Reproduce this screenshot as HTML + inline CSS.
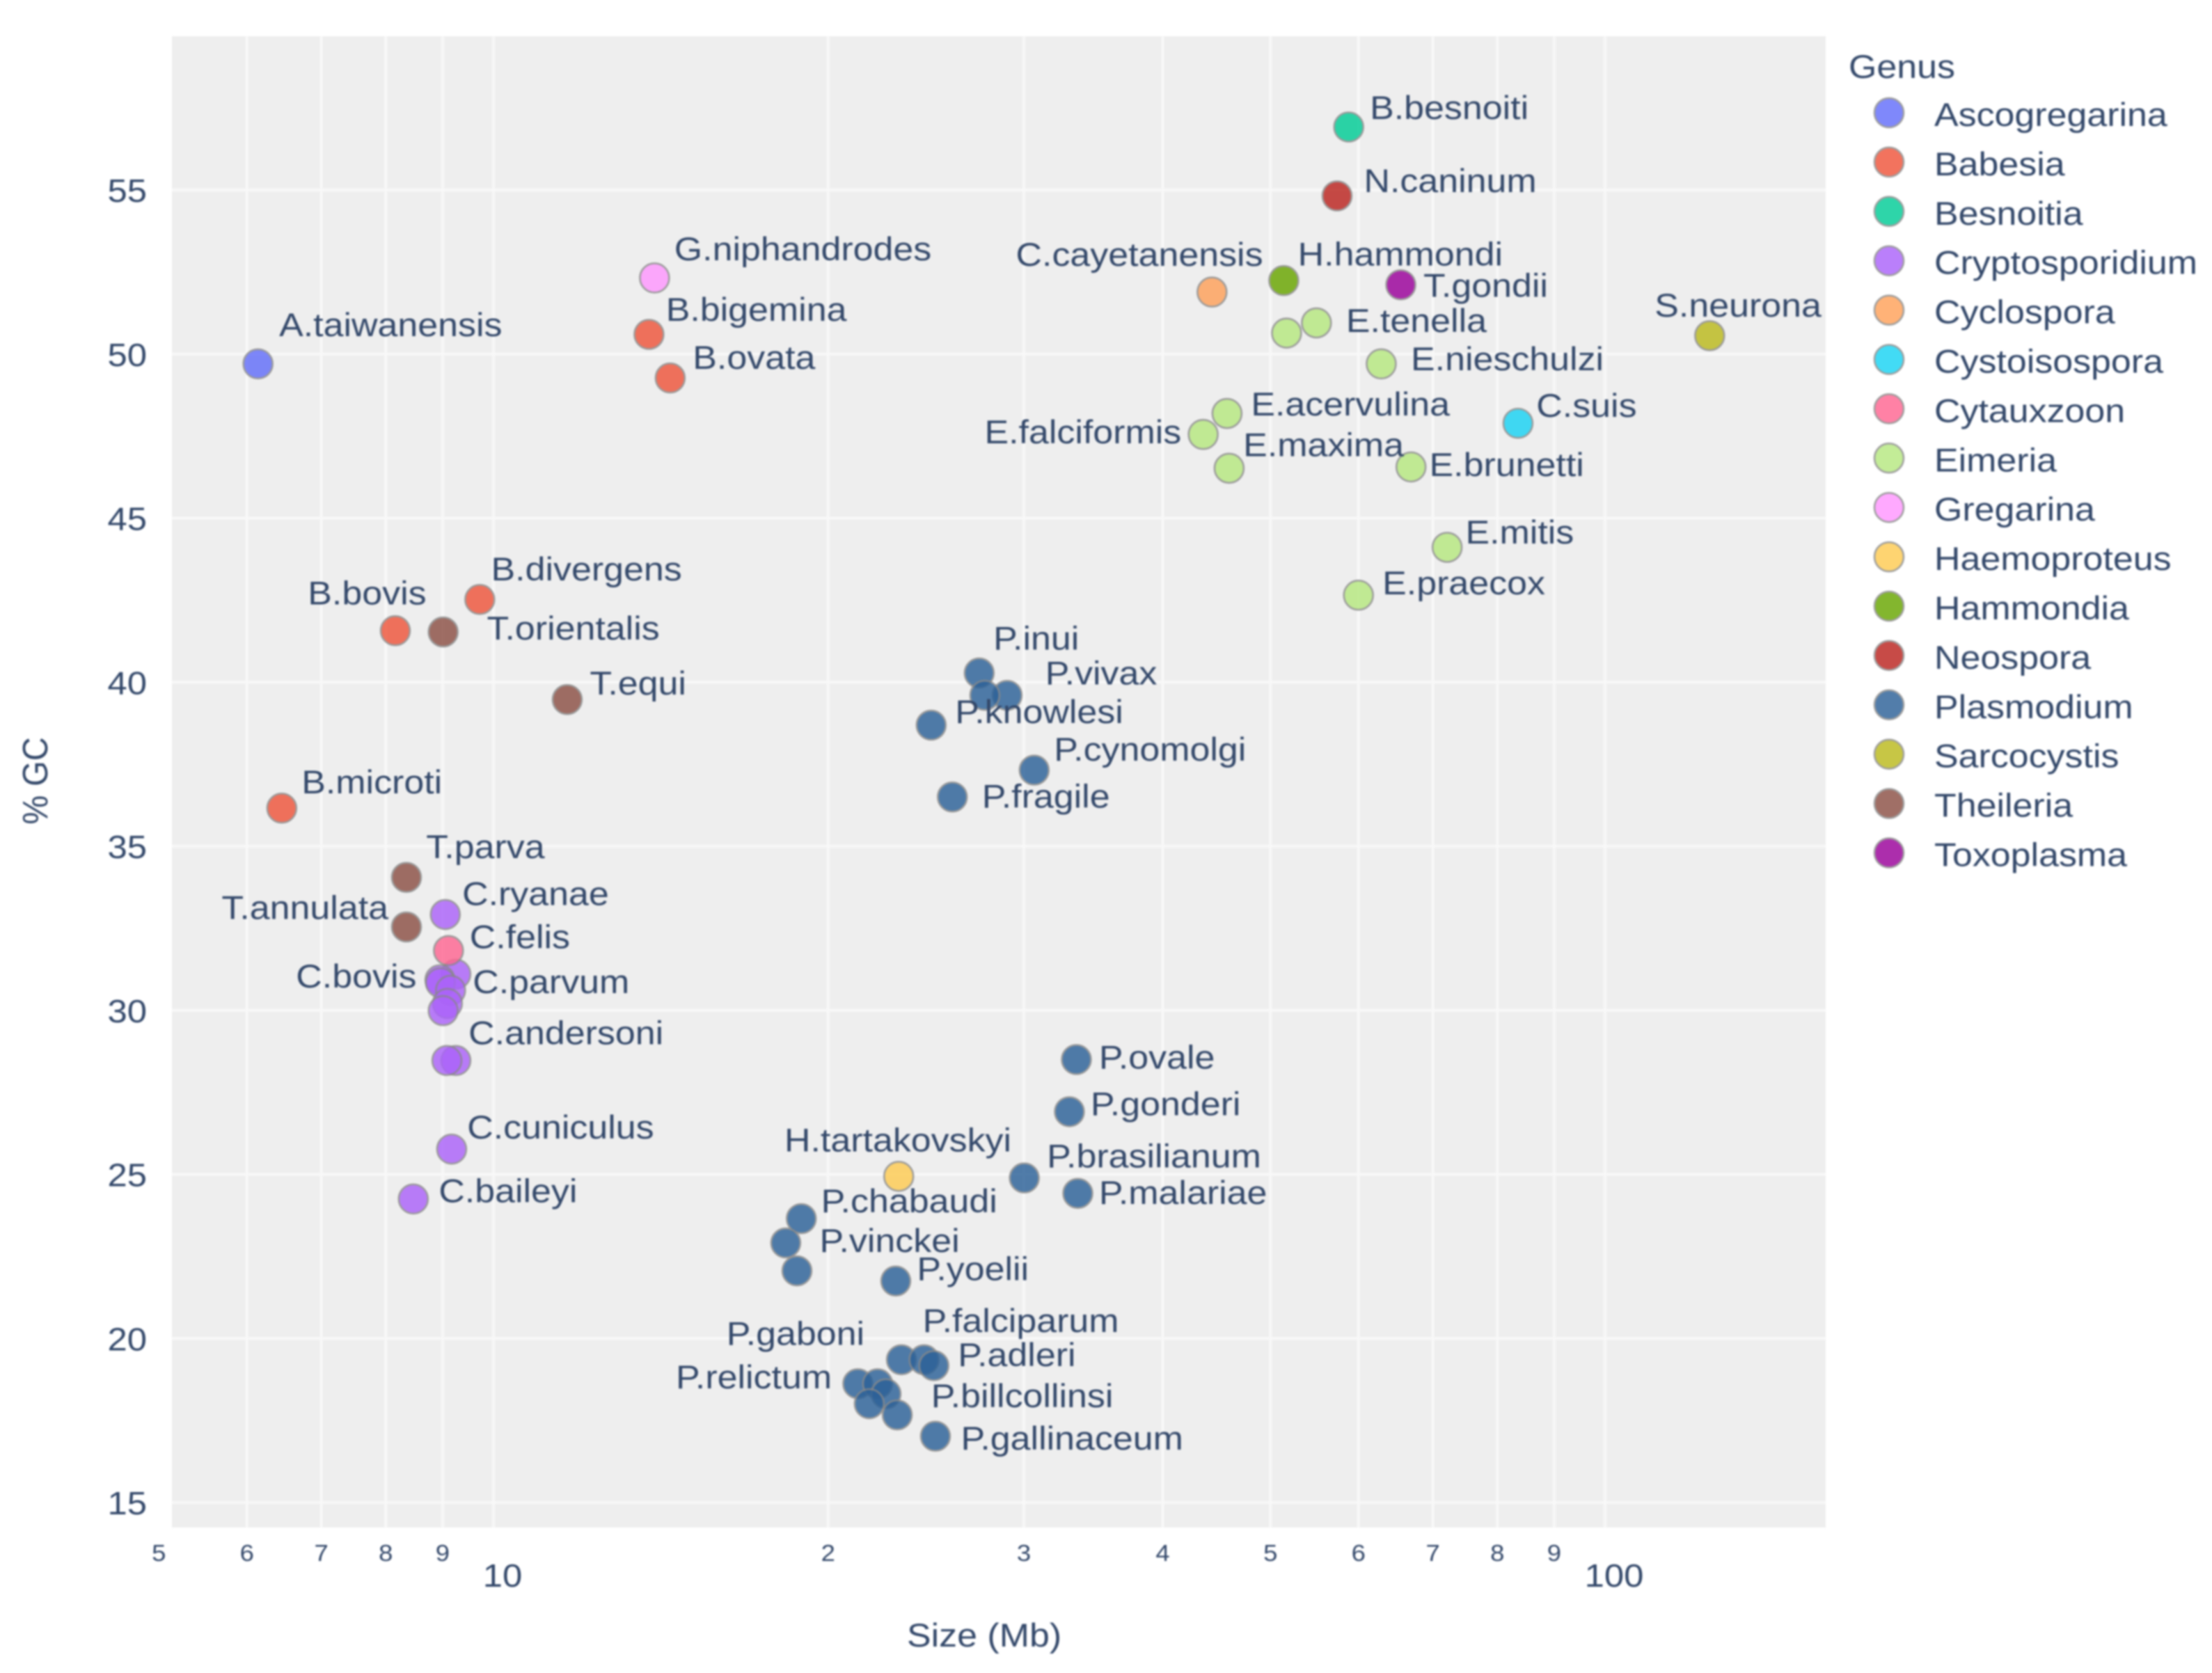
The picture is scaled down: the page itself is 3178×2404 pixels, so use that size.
<!DOCTYPE html>
<html lang="en">
<head>
<meta charset="utf-8">
<title>Genome size vs GC content</title>
<style>
html,body{margin:0;padding:0;background:#fff;}
#chart{display:block;width:3178px;height:2404px;filter:blur(1.2px);}
text{font-family:"Liberation Sans",sans-serif;fill:#33486a;}
</style>
</head>
<body>
<svg id="chart" xmlns="http://www.w3.org/2000/svg" width="3178" height="2404" viewBox="0 0 3178 2404"></svg>
<script>
const genusNames = ["Ascogregarina","Babesia","Besnoitia","Cryptosporidium","Cyclospora","Cystoisospora","Cytauxzoon","Eimeria","Gregarina","Haemoproteus","Hammondia","Neospora","Plasmodium","Sarcocystis","Theileria","Toxoplasma"];
const xTickValues = [6,7,8,9,10,20,30,40,50,60,70,80,90,100];
const xMinorTickValues = [5,6,7,8,9,20,30,40,50,60,70,80,90];
const xMinorTickLabels = ["5","6","7","8","9","2","3","4","5","6","7","8","9"];
const xMajorTickValues = [10,100];
const xMajorTickLabels = ["10","100"];
const yTickValues = [15,20,25,30,35,40,45,50,55];
const yTickLabels = ["15","20","25","30","35","40","45","50","55"];

const pointLabels = ["A.taiwanensis",
"B.bigemina","B.ovata","B.divergens","B.bovis","B.microti",
"B.besnoiti",
"C.ryanae","C.parvum","C.bovis","","","","","C.andersoni","","C.cuniculus","C.baileyi",
"C.cayetanensis",
"C.suis",
"C.felis",
"E.tenella","","E.nieschulzi","E.acervulina","E.falciformis","E.maxima","E.brunetti","E.mitis","E.praecox",
"G.niphandrodes",
"H.tartakovskyi",
"H.hammondi",
"N.caninum",
"P.inui","P.vivax","","P.knowlesi","P.cynomolgi","P.fragile","P.ovale","P.gonderi","P.brasilianum","P.malariae","P.chabaudi","P.vinckei","","P.yoelii","P.gaboni","P.falciparum","P.adleri","P.relictum","","","","P.billcollinsi","P.gallinaceum",
"S.neurona",
"T.orientalis","T.equi","T.parva","T.annulata",
"T.gondii"];
const pointGenus = [0,
1,1,1,1,1,
2,
3,3,3,3,3,3,3,3,3,3,3,
4,
5,
6,
7,7,7,7,7,7,7,7,7,
8,
9,
10,
11,
12,12,12,12,12,12,12,12,12,12,12,12,12,12,12,12,12,12,12,12,12,12,12,
13,
14,14,14,14,
15];
const sizesMb = [6.14,
13.80,14.42,9.72,8.16,6.45,
58.8,
9.05,9.25,8.95,8.96,9.15,9.09,9.01,9.25,9.08,9.17,8.47,
44.3,
83.5,
9.11,
55.0,51.7,62.9,45.7,43.5,45.9,66.9,72.1,60.0,
13.96,
23.15,
51.4,
57.4,
27.35,28.98,27.67,24.76,30.65,25.87,33.45,32.97,30.03,33.55,18.92,18.32,18.75,23.01,23.28,24.40,24.90,21.27,22.16,22.55,21.78,23.08,24.98,
124.2,
9.01,11.65,8.35,8.35,
65.5];
const gcPercent = [49.70,
50.60,49.27,42.52,41.57,36.16,
56.92,
32.92,31.10,30.93,30.84,30.61,30.21,29.99,28.47,28.47,25.77,24.25,
51.89,
47.89,
31.82,
50.95,50.64,49.70,48.19,47.55,46.52,46.56,44.11,42.65,
52.32,
24.94,
52.24,
54.82,
40.28,39.60,39.60,38.69,37.32,36.50,28.50,26.91,24.89,24.42,23.65,22.91,22.06,21.75,19.35,19.35,19.17,18.62,18.62,18.31,18.01,17.67,17.02,
50.56,
41.53,39.47,34.05,32.54,
52.11];

/* Layout only: where each printed species name sits relative to its marker. */
const labelShift = {
"A.taiwanensis":[15,-27],"B.bigemina":[12,-17],"B.ovata":[16,-14],"B.divergens":[8,-21],"B.bovis":[-62,-26],"B.microti":[14,-18],
"B.besnoiti":[15,-13],"N.caninum":[19,-10],"G.niphandrodes":[14,-20],"C.cayetanensis":[-139,-26],"H.hammondi":[10,-18],"T.gondii":[16,1],
"S.neurona":[-39,-21],"E.tenella":[21,-1],"E.nieschulzi":[21,-3],"E.acervulina":[17,-6],"E.falciformis":[-155,-1],"E.maxima":[10,-16],
"E.brunetti":[13,-1],"C.suis":[13,-12],"E.mitis":[13,-10],"E.praecox":[17,-8],"T.orientalis":[31,-2],"T.equi":[16,-11],"T.parva":[14,-21],
"T.annulata":[-131,-13],"C.ryanae":[12,-14],"C.felis":[15,-9],"C.bovis":[-102,-2],"C.parvum":[12,6],"C.andersoni":[9,-19],"C.cuniculus":[11,-15],
"C.baileyi":[18,-5],"P.inui":[10,-24],"P.vivax":[27,-15],"P.knowlesi":[17,-9],"P.cynomolgi":[14,-14],"P.fragile":[21,0],"P.ovale":[16,-1],
"P.gonderi":[15,-5],"H.tartakovskyi":[-81,-25],"P.brasilianum":[16,-15],"P.malariae":[15,0],"P.chabaudi":[14,-12],"P.vinckei":[24,-1],
"P.yoelii":[15,-8],"P.gaboni":[-124,-18],"P.falciparum":[-1,-27],"P.adleri":[17,-7],"P.relictum":[-129,-4],"P.billcollinsi":[24,-13],"P.gallinaceum":[18,2]
};
const genusColors = ["#636efa","#ef553b","#00cc96","#ab63fa","#ffa15a","#19d3f3","#ff6692","#b6e880","#ff97ff","#fecb52","#68a600","#bb241f","#2c6198","#bbba1d","#8c5045","#9a009a"];

const NS = "http://www.w3.org/2000/svg";
const svg = document.getElementById("chart");
const plot = {left:247,right:2623,top:52,bottom:2195};
const STRETCH = 1.105;
const SHIFT_UNIT = 2.027;

function xScale(v){ return 709 + 1597 * Math.log10(v / 10); }
function yScale(v){ return 2159 - (v - 15) * 47.15; }

function make(tag, attrs, parent){
  const el = document.createElementNS(NS, tag);
  for (const k in attrs) el.setAttribute(k, attrs[k]);
  (parent || svg).appendChild(el);
  return el;
}
function label(str, x, y, size, anchor, parent){
  const el = make("text", {"font-size":size,"text-anchor":anchor||"start",
    transform:"translate("+x+" "+y+") scale("+STRETCH+" 1)"}, parent);
  el.textContent = str;
  return el;
}

const bg = make("rect",{x:plot.left,y:plot.top,width:plot.right-plot.left,height:plot.bottom-plot.top,fill:"#eeeeee"});



const gridG = make("g",{stroke:"#f8f8f8","stroke-width":4});


xTickValues.forEach(function(v){
  const l = make("line",{x1:xScale(v),x2:xScale(v),y1:plot.top,y2:plot.bottom},gridG);
  
  
});
yTickValues.forEach(function(v){
  const l = make("line",{x1:plot.left,x2:plot.right,y1:yScale(v),y2:yScale(v)},gridG);
  
  
});

const tickG = make("g",{});


xMinorTickValues.forEach(function(v,i){
  const t = label(xMinorTickLabels[i], xScale(v), 2243, 33, "middle", tickG);
  
  
});
xMajorTickValues.forEach(function(v,i){
  const t = label(xMajorTickLabels[i], xScale(v)+13, 2280, 46, "middle", tickG);
  
  
});
yTickValues.forEach(function(v,i){
  const t = label(yTickLabels[i], 211, yScale(v)+17, 46, "end", tickG);
  
  
});

const xTitle = label("Size (Mb)", 1303, 2366, 47, "start");



const yTitle = make("text",{"font-size":47,"text-anchor":"middle",
  transform:"translate(68 1122) rotate(-90) scale(1 1.09)"});
yTitle.textContent = "% GC";



const markG = make("g",{});


const nameG = make("g",{});



genusNames.forEach(function(genus, g){
  sizesMb.forEach(function(size, i){
    if (pointGenus[i] !== g) return;
    const cx = xScale(size), cy = yScale(gcPercent[i]);
    const c = make("circle",{cx:cx,cy:cy,r:21,fill:genusColors[g],stroke:"#888888","stroke-width":2.5,opacity:0.82},markG);
    
    
    const name = pointLabels[i];
    if (name) {
      const s = labelShift[name];
      const t = label(name, cx + s[0]*SHIFT_UNIT, cy + s[1]*SHIFT_UNIT + 15, 47, "start", nameG);
      
      
    }
  });
});

const legendG = make("g",{});


const legendTitle = label("Genus", 2656, 112, 47, "start", legendG);


genusNames.forEach(function(genus, g){
  const ly = 162 + g * 70.9;
  const m = make("circle",{cx:2714,cy:ly,r:21,fill:genusColors[g],stroke:"#888888","stroke-width":2.5,opacity:0.82},legendG);
  
  
  const t = label(genus, 2779, ly + 19, 47, "start", legendG);
  
  
});
</script>
</body>
</html>
